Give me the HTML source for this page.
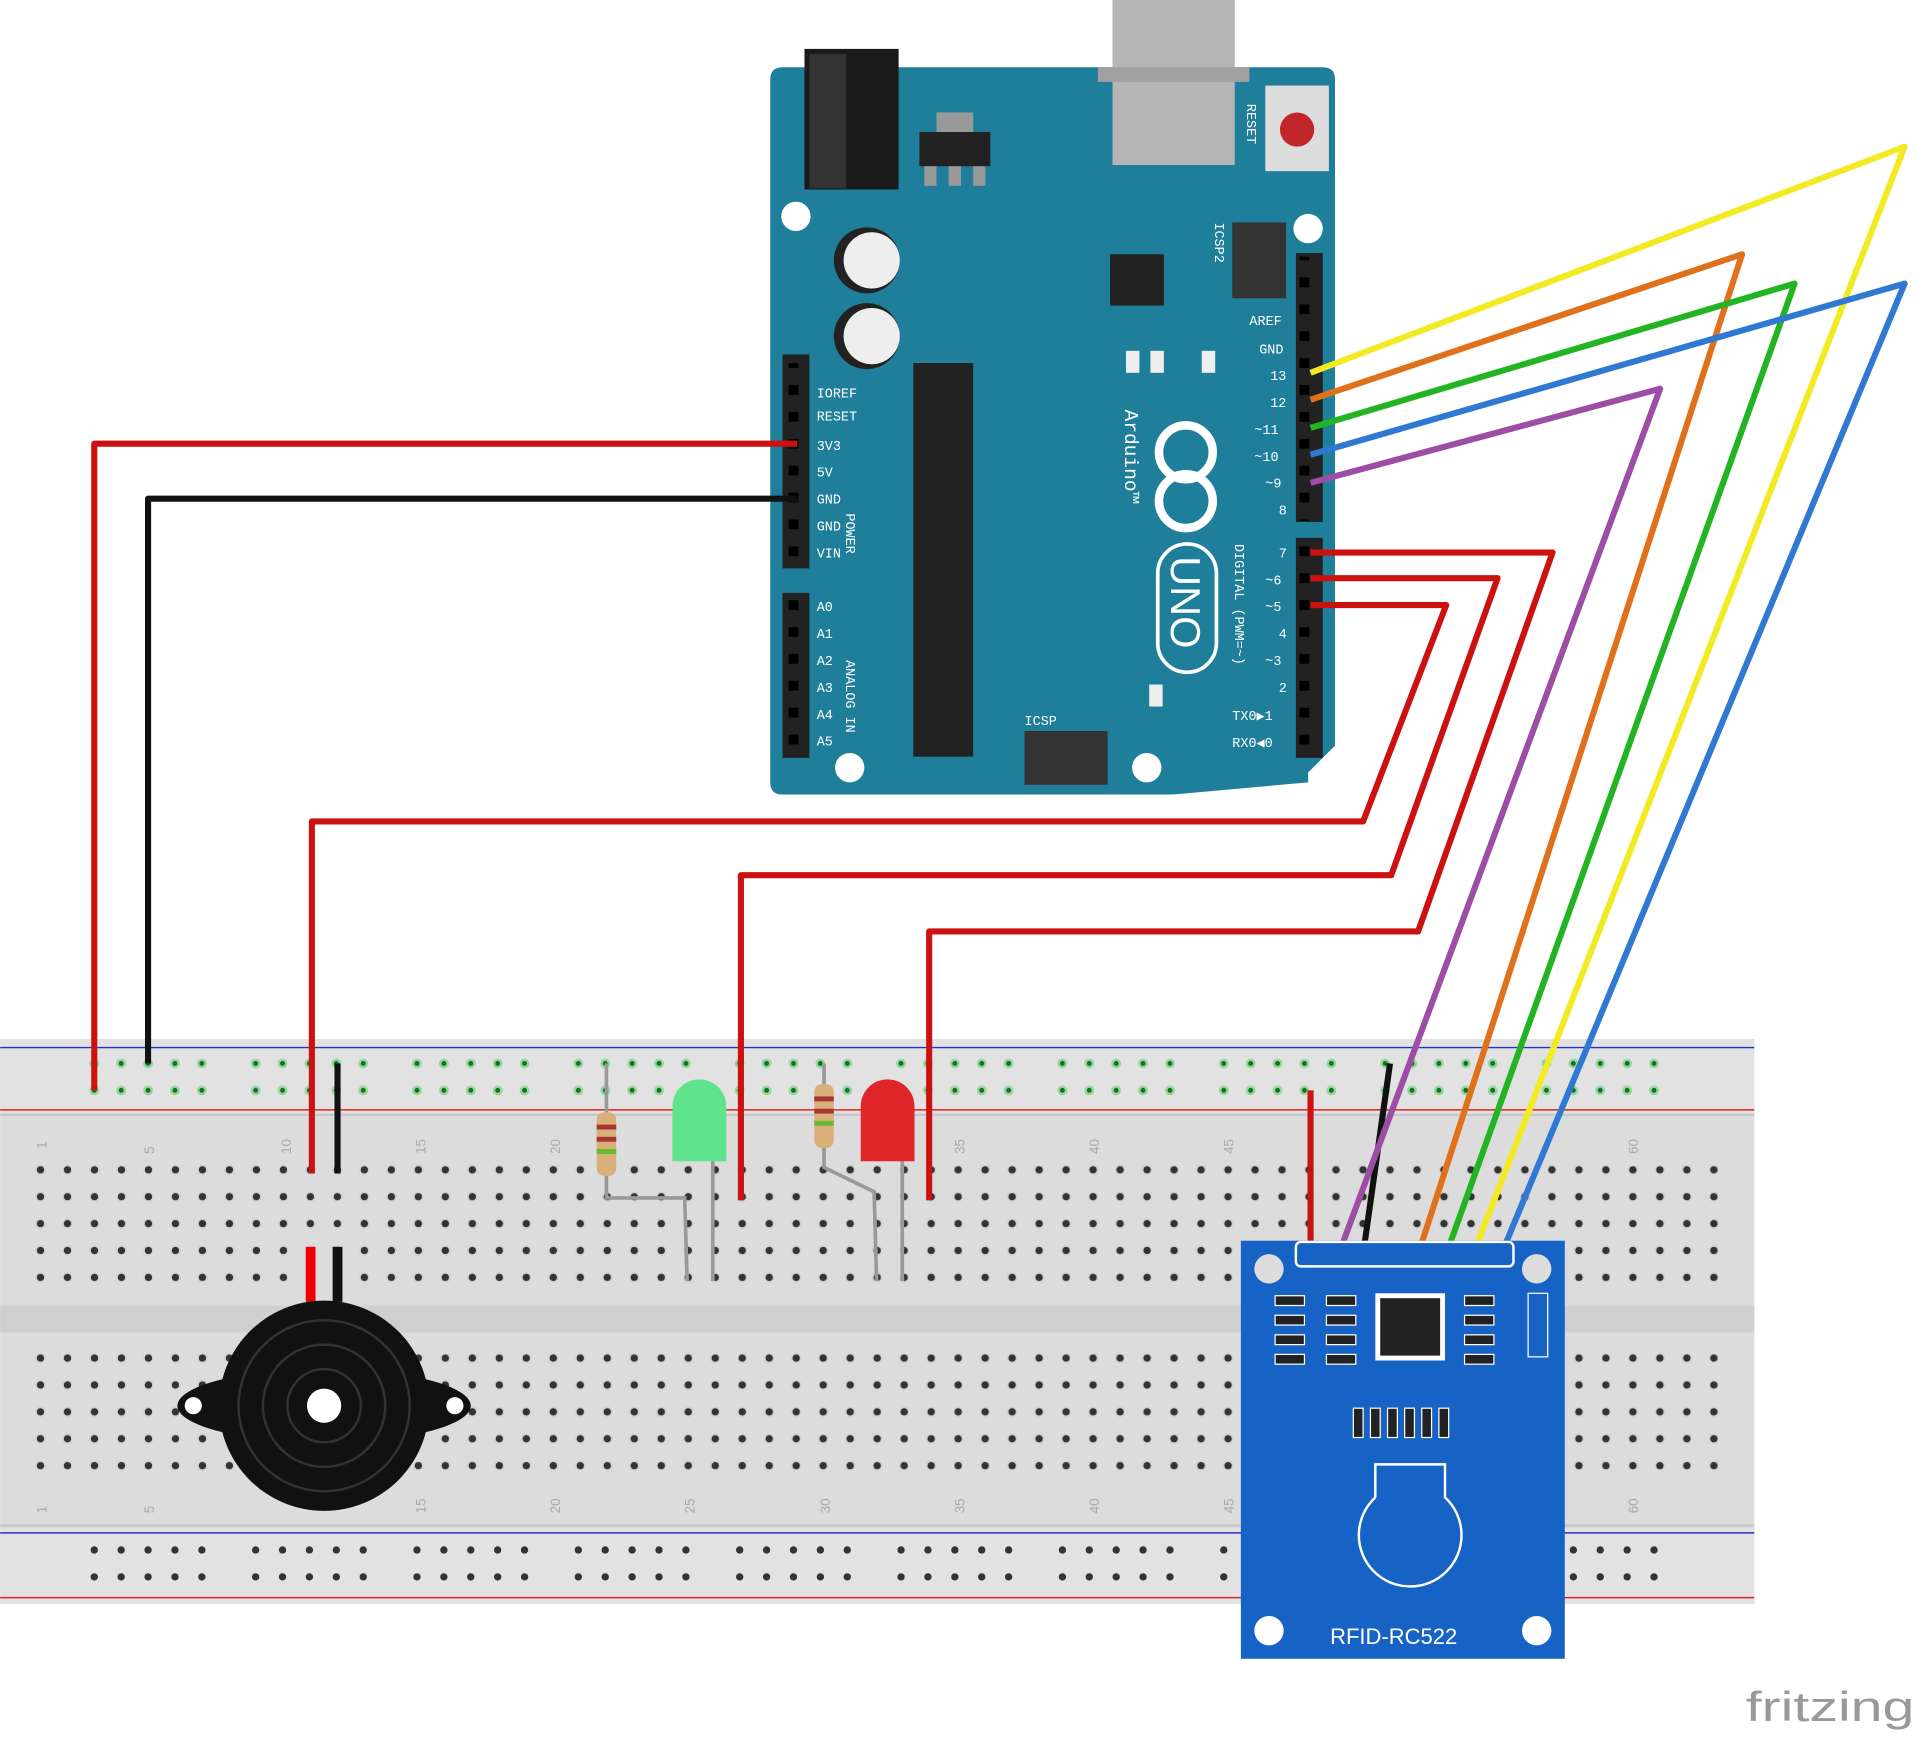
<!DOCTYPE html>
<html><head><meta charset="utf-8"><style>html,body{margin:0;padding:0;background:#fff}svg{display:block}</style></head>
<body>
<svg width="1917" height="1737" viewBox="0 0 1568 1421" xmlns="http://www.w3.org/2000/svg" font-family="Liberation Mono, monospace">
<defs>
<pattern id="h" x="22" y="0" width="22.08" height="22" patternUnits="userSpaceOnUse">
<circle cx="11" cy="11" r="4.2" fill="#cfcfcf"/><circle cx="11" cy="11" r="3" fill="#333"/></pattern>
<pattern id="pin" x="0" y="0" width="22" height="22" patternUnits="userSpaceOnUse"><rect x="7" y="7" width="8" height="8" fill="#000"/></pattern>
<g id="g5"><circle cx="0" cy="0" r="3"/><circle cx="22" cy="0" r="3"/><circle cx="44" cy="0" r="3"/><circle cx="66" cy="0" r="3"/><circle cx="88" cy="0" r="3"/><circle cx="0" cy="22" r="3"/><circle cx="22" cy="22" r="3"/><circle cx="44" cy="22" r="3"/><circle cx="66" cy="22" r="3"/><circle cx="88" cy="22" r="3"/></g>
</defs>
<!-- breadboard -->
<rect x="0" y="850" width="1435" height="462" fill="#dcdcdc"/>
<rect x="0" y="850" width="1435" height="62" fill="#e2e2e2"/>
<line x1="0" y1="857" x2="1435" y2="857" stroke="#2233cc" stroke-width="1.2"/>
<line x1="0" y1="908" x2="1435" y2="908" stroke="#dd2222" stroke-width="1.2"/>
<line x1="0" y1="912" x2="1435" y2="912" stroke="#c8c8c8" stroke-width="2"/>
<rect x="0" y="1068" width="1435" height="22" fill="#cfcfcf"/>
<line x1="0" y1="1248" x2="1435" y2="1248" stroke="#c8c8c8" stroke-width="2"/>
<rect x="0" y="1250" width="1435" height="62" fill="#e2e2e2"/>
<line x1="0" y1="1254" x2="1435" y2="1254" stroke="#2233cc" stroke-width="1.2"/>
<line x1="0" y1="1307" x2="1435" y2="1307" stroke="#dd2222" stroke-width="1.2"/>
<rect x="22" y="949" width="1390" height="110" fill="url(#h)"/>
<rect x="22" y="1101" width="1390" height="110" fill="url(#h)"/>
<g fill="#1e6b2a" stroke="#8fd99a" stroke-width="2">
<use href="#g5" x="77" y="870"/><use href="#g5" x="209" y="870"/><use href="#g5" x="341" y="870"/><use href="#g5" x="473" y="870"/><use href="#g5" x="605" y="870"/><use href="#g5" x="737" y="870"/><use href="#g5" x="869" y="870"/><use href="#g5" x="1001" y="870"/><use href="#g5" x="1133" y="870"/><use href="#g5" x="1265" y="870"/>
</g>
<g fill="#333">
<use href="#g5" x="77" y="1268"/><use href="#g5" x="209" y="1268"/><use href="#g5" x="341" y="1268"/><use href="#g5" x="473" y="1268"/><use href="#g5" x="605" y="1268"/><use href="#g5" x="737" y="1268"/><use href="#g5" x="869" y="1268"/><use href="#g5" x="1001" y="1268"/><use href="#g5" x="1133" y="1268"/><use href="#g5" x="1265" y="1268"/>
</g>
<g font-family="Liberation Sans, sans-serif" font-size="11" fill="#aaa">
<text x="38" y="940" transform="rotate(-90 38 940)">1</text><text x="126" y="944" transform="rotate(-90 126 944)">5</text><text x="238" y="944" transform="rotate(-90 238 944)">10</text><text x="348" y="944" transform="rotate(-90 348 944)">15</text><text x="458" y="944" transform="rotate(-90 458 944)">20</text><text x="789" y="944" transform="rotate(-90 789 944)">35</text><text x="899" y="944" transform="rotate(-90 899 944)">40</text><text x="1009" y="944" transform="rotate(-90 1009 944)">45</text><text x="1340" y="944" transform="rotate(-90 1340 944)">60</text>
<text x="38" y="1238" transform="rotate(-90 38 1238)">1</text><text x="126" y="1238" transform="rotate(-90 126 1238)">5</text><text x="348" y="1238" transform="rotate(-90 348 1238)">15</text><text x="458" y="1238" transform="rotate(-90 458 1238)">20</text><text x="568" y="1238" transform="rotate(-90 568 1238)">25</text><text x="679" y="1238" transform="rotate(-90 679 1238)">30</text><text x="789" y="1238" transform="rotate(-90 789 1238)">35</text><text x="899" y="1238" transform="rotate(-90 899 1238)">40</text><text x="1009" y="1238" transform="rotate(-90 1009 1238)">45</text><text x="1340" y="1238" transform="rotate(-90 1340 1238)">60</text>
</g>
<!-- Arduino -->
<path d="M640 55 H1082 Q1092 55 1092 65 V610 L1070 632 V640 L960 650 H640 Q630 650 630 640 V65 Q630 55 640 55 Z" fill="#1f7f9b"/>
<rect x="910" y="0" width="100" height="135" fill="#b5b5b5"/><rect x="898" y="55" width="124" height="12" fill="#a0a0a0"/>
<rect x="658" y="40" width="77" height="115" fill="#1a1a1a"/><rect x="662" y="44" width="30" height="110" fill="#333"/>
<rect x="752" y="108" width="58" height="28" fill="#222"/><rect x="766" y="92" width="30" height="16" fill="#999"/>
<rect x="756" y="136" width="10" height="16" fill="#999"/><rect x="776" y="136" width="10" height="16" fill="#999"/><rect x="796" y="136" width="10" height="16" fill="#999"/>
<rect x="1035" y="70" width="52" height="70" fill="#ddd"/><circle cx="1061" cy="106" r="14" fill="#c0262a"/>
<circle cx="651" cy="177" r="12" fill="#fff"/><circle cx="1070" cy="187" r="12" fill="#fff"/><circle cx="695" cy="628" r="12" fill="#fff"/><circle cx="938" cy="628" r="12" fill="#fff"/>
<circle cx="709" cy="213" r="27" fill="#222"/><circle cx="713" cy="213" r="23" fill="#eee"/>
<circle cx="709" cy="275" r="27" fill="#222"/><circle cx="713" cy="275" r="23" fill="#eee"/>
<rect x="908" y="208" width="44" height="42" fill="#222"/>
<rect x="747" y="297" width="49" height="322" fill="#222"/>
<rect x="1008" y="182" width="44" height="62" fill="#333"/>
<rect x="921" y="287" width="11" height="18" fill="#eee"/><rect x="941" y="287" width="11" height="18" fill="#eee"/><rect x="983" y="287" width="11" height="18" fill="#eee"/>
<rect x="940" y="560" width="11" height="18" fill="#eee"/>
<rect x="838" y="598" width="68" height="44" fill="#333"/>
<rect x="640" y="290" width="22" height="175" fill="#222"/><rect x="640" y="485" width="22" height="135" fill="#222"/>
<rect x="1060" y="207" width="22" height="220" fill="#222"/><rect x="1060" y="440" width="22" height="180" fill="#222"/>
<rect x="640" y="297" width="22" height="165" fill="url(#pin)"/><rect x="640" y="486" width="22" height="132" fill="url(#pin)"/>
<rect x="1060" y="210" width="22" height="216" fill="url(#pin)"/><rect x="1060" y="441" width="22" height="176" fill="url(#pin)"/>
<g fill="#fff" font-size="11">
<text x="668" y="325">IOREF</text><text x="668" y="344">RESET</text><text x="668" y="368">3V3</text><text x="668" y="390">5V</text><text x="668" y="412">GND</text><text x="668" y="434">GND</text><text x="668" y="456">VIN</text>
<text x="668" y="500">A0</text><text x="668" y="522">A1</text><text x="668" y="544">A2</text><text x="668" y="566">A3</text><text x="668" y="588">A4</text><text x="668" y="610">A5</text>
<text x="1022" y="266">AREF</text><text x="1030" y="289">GND</text><text x="1039" y="311">13</text><text x="1039" y="333">12</text><text x="1026" y="355">~11</text><text x="1026" y="377">~10</text><text x="1035" y="399">~9</text><text x="1046" y="421">8</text>
<text x="1046" y="456">7</text><text x="1035" y="478">~6</text><text x="1035" y="500">~5</text><text x="1046" y="522">4</text><text x="1035" y="544">~3</text><text x="1046" y="566">2</text><text x="1008" y="589">TX0▶1</text><text x="1008" y="611">RX0◀0</text>
<text x="838" y="593">ICSP</text>
<text x="692" y="420" transform="rotate(90 692 420)">POWER</text>
<text x="692" y="540" transform="rotate(90 692 540)">ANALOG IN</text>
<text x="1010" y="445" transform="rotate(90 1010 445)">DIGITAL (PWM=~)</text>
<text x="1020" y="85" transform="rotate(90 1020 85)">RESET</text>
<text x="994" y="182" transform="rotate(90 994 182)">ICSP2</text>
<text x="920" y="335" font-size="16" transform="rotate(90 920 335)">Arduino™</text>
</g>
<circle cx="970" cy="370" r="22" fill="none" stroke="#fff" stroke-width="7"/><circle cx="970" cy="410" r="22" fill="none" stroke="#fff" stroke-width="7"/>
<rect x="947" y="445" width="48" height="105" rx="24" fill="none" stroke="#fff" stroke-width="3"/>
<text x="958" y="455" fill="#fff" font-family="Liberation Sans, sans-serif" font-size="34" transform="rotate(90 958 455)">UNO</text>
<!-- wires -->
<g fill="none" stroke-width="5" stroke-linejoin="round">
<polyline points="77,892 77,363 652,363" stroke="#cc1111"/>
<polyline points="121,870 121,408 652,408" stroke="#111"/>
<polyline points="255,960 255,672 1115,672 1183,495 1072,495" stroke="#cc1111"/>
<polyline points="606,982 606,716 1138,716 1225,473 1072,473" stroke="#cc1111"/>
<polyline points="760,982 760,762 1160,762 1270,452 1072,452" stroke="#cc1111"/>
<polyline points="276,870 276,960" stroke="#111"/>
<polyline points="1072,892 1072,1026" stroke="#cc1111"/>
<polyline points="1137,870 1115,1026" stroke="#111"/>
<polyline points="1072,395 1358,318 1095,1026" stroke="#9b4ea3"/>
<polyline points="1072,327 1425,208 1160,1026" stroke="#e0701a"/>
<polyline points="1072,350 1468,232 1183,1026" stroke="#22b422"/>
<polyline points="1072,305 1558,120 1205,1026" stroke="#f2ea22"/>
<polyline points="1072,372 1558,232 1228,1026" stroke="#2f79d2"/>
</g>
<!-- LEDs and resistors -->
<g stroke="#999" stroke-width="3" fill="none">
<polyline points="496,870 496,980 560,980 562,1048"/><polyline points="583,950 583,1048"/>
<polyline points="674,870 674,955 715,975 717,1048"/><polyline points="738,950 738,1048"/>
</g>
<rect x="488" y="910" width="16" height="52" rx="6" fill="#d9b07a"/><rect x="488" y="920" width="16" height="4" fill="#a33"/><rect x="488" y="930" width="16" height="4" fill="#a33"/><rect x="488" y="940" width="16" height="4" fill="#6b3"/>
<rect x="666" y="887" width="16" height="52" rx="6" fill="#d9b07a"/><rect x="666" y="897" width="16" height="4" fill="#a33"/><rect x="666" y="907" width="16" height="4" fill="#a33"/><rect x="666" y="917" width="16" height="4" fill="#6b3"/>
<path d="M550 950 V905 A22 22 0 0 1 594 905 V950 Z" fill="#5fe38c"/>
<path d="M704 950 V905 A22 22 0 0 1 748 905 V950 Z" fill="#e0262a"/>
<!-- buzzer -->
<rect x="250" y="1020" width="8" height="45" fill="#e00"/><rect x="272" y="1020" width="8" height="45" fill="#111"/>
<ellipse cx="265" cy="1150" rx="120" ry="30" fill="#111"/>
<circle cx="158" cy="1150" r="7" fill="#fff"/><circle cx="372" cy="1150" r="7" fill="#fff"/>
<circle cx="265" cy="1150" r="86" fill="#111"/>
<circle cx="265" cy="1150" r="70" fill="none" stroke="#333" stroke-width="2"/><circle cx="265" cy="1150" r="50" fill="none" stroke="#333" stroke-width="2"/><circle cx="265" cy="1150" r="30" fill="none" stroke="#333" stroke-width="2"/>
<circle cx="265" cy="1150" r="14" fill="#fff"/>
<!-- RFID -->
<rect x="1015" y="1015" width="265" height="342" fill="#1763c5"/>
<circle cx="1038" cy="1038" r="12" fill="#ddd"/><circle cx="1257" cy="1038" r="12" fill="#ddd"/><circle cx="1038" cy="1334" r="12" fill="#fff"/><circle cx="1257" cy="1334" r="12" fill="#fff"/>
<rect x="1060" y="1016" width="178" height="20" rx="4" fill="none" stroke="#fff" stroke-width="2"/>
<rect x="1125" y="1058" width="57" height="55" fill="#fff"/><rect x="1129" y="1062" width="49" height="47" fill="#222"/>
<g fill="#222" stroke="#fff" stroke-width="1">
<rect x="1043" y="1060" width="24" height="8"/><rect x="1043" y="1076" width="24" height="8"/><rect x="1043" y="1092" width="24" height="8"/><rect x="1043" y="1108" width="24" height="8"/>
<rect x="1085" y="1060" width="24" height="8"/><rect x="1085" y="1076" width="24" height="8"/><rect x="1085" y="1092" width="24" height="8"/><rect x="1085" y="1108" width="24" height="8"/>
<rect x="1198" y="1060" width="24" height="8"/><rect x="1198" y="1076" width="24" height="8"/><rect x="1198" y="1092" width="24" height="8"/><rect x="1198" y="1108" width="24" height="8"/>
<rect x="1250" y="1058" width="16" height="52" fill="#1763c5"/>
<rect x="1107" y="1152" width="8" height="24"/><rect x="1121" y="1152" width="8" height="24"/><rect x="1135" y="1152" width="8" height="24"/><rect x="1149" y="1152" width="8" height="24"/><rect x="1163" y="1152" width="8" height="24"/><rect x="1177" y="1152" width="8" height="24"/>
</g>
<path d="M1125 1225 V1198 H1182 V1225 A42 42 0 1 1 1125 1225" fill="none" stroke="#fff" stroke-width="2"/>
<text x="1140" y="1345" fill="#fff" font-family="Liberation Sans, sans-serif" font-size="18" text-anchor="middle">RFID-RC522</text>
<text x="1428" y="1408" fill="#999" font-family="Liberation Sans, sans-serif" font-size="34" textLength="138" lengthAdjust="spacingAndGlyphs">fritzing</text>
</svg>
</body></html>
